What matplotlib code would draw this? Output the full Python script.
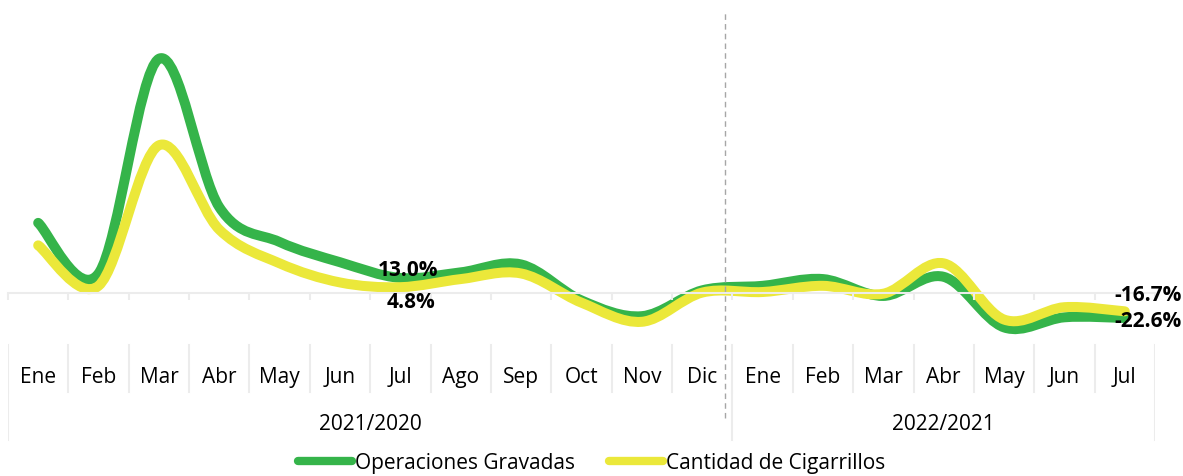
import matplotlib
matplotlib.use("Agg")
import matplotlib.pyplot as plt
from matplotlib.path import Path
from matplotlib.patches import PathPatch
from matplotlib.lines import Line2D

# datos (variación interanual, %)
meses = ["Ene", "Feb", "Mar", "Abr", "May", "Jun", "Jul", "Ago", "Sep", "Oct", "Nov", "Dic",
         "Ene", "Feb", "Mar", "Abr", "May", "Jun", "Jul"]
grupos = ["2021/2020", "2022/2021"]
meses_por_grupo = [12, 7]
operaciones = [62, 17, 208, 76, 45, 27, 13.0, 18, 25, -7, -21, 2,
               6, 12, -3, 14, -31, -22, -22.6]
cigarrillos = [42, 6, 131, 56, 26, 9, 4.8, 12, 17, -9, -26, 0,
               0.5, 6, -1, 26, -24, -13, -16.7]
etiquetas = {6: ("13.0%", "4.8%"), 18: ("-16.7%", "-22.6%")}

VERDE = "#35b44a"
AMARILLO = "#ebe83a"
GRIS = "#ececec"

plt.rcParams["font.family"] = ["Open Sans", "DejaVu Sans"]


def curva_suave(ys, t=1 / 6):
    # bezier tipo Excel (Catmull-Rom) a partir de los puntos
    n = len(ys)
    pts = list(zip(range(n), ys))
    verts = [pts[0]]
    codes = [Path.MOVETO]
    for i in range(n - 1):
        p0 = pts[max(i - 1, 0)]
        p1 = pts[i]
        p2 = pts[i + 1]
        p3 = pts[min(i + 2, n - 1)]
        c1 = (p1[0] + (p2[0] - p0[0]) * t, p1[1] + (p2[1] - p0[1]) * t)
        c2 = (p2[0] - (p3[0] - p1[0]) * t, p2[1] - (p3[1] - p1[1]) * t)
        verts += [c1, c2, p2]
        codes += [Path.CURVE4] * 3
    return Path(verts, codes)


W, H = 1183, 476
fig = plt.figure(figsize=(W / 100, H / 100), dpi=100)

# área del gráfico: x 8..1155 px, y 10..340 px
ax = fig.add_axes([8 / W, (H - 340) / H, 1147 / W, 330 / H])
n = len(meses)
ax.set_xlim(-0.5, n - 0.5)
ax.set_ylim(-42.2, 251.4)
for s in ["top", "right", "left"]:
    ax.spines[s].set_visible(False)
ax.spines["bottom"].set_position(("data", 0))
ax.spines["bottom"].set_color(GRIS)
ax.spines["bottom"].set_linewidth(1.5)
ax.set_yticks([])
ax.set_xticks([i - 0.5 for i in range(n + 1)])
ax.tick_params(axis="x", length=5, width=1.5, color=GRIS, labelbottom=False)

for ys, color in [(operaciones, VERDE), (cigarrillos, AMARILLO)]:
    ax.add_patch(PathPatch(curva_suave(ys), facecolor="none", edgecolor=color,
                           lw=7.2, capstyle="round", joinstyle="round"))

for i, (sup, inf) in etiquetas.items():
    if i == n - 1:
        ax.text(i + 0.38, cigarrillos[i] + 13.7, sup, ha="center", va="center",
                fontsize=15, fontweight="bold")
        ax.text(i + 0.38, operaciones[i] - 2.7, inf, ha="center", va="center",
                fontsize=15, fontweight="bold")
    else:
        ax.text(i + 0.12, operaciones[i] + 7, sup, ha="center", va="center",
                fontsize=15, fontweight="bold")
        ax.text(i + 0.17, cigarrillos[i] - 14, inf, ha="center", va="center",
                fontsize=15, fontweight="bold")

# línea divisoria entre periodos
ax.axvline(meses_por_grupo[0] - 0.62, ymin=-0.236, ymax=0.994, color="#a6a6a6",
           lw=1, ls=(0, (4, 3)), clip_on=False)

# tabla de categorías debajo
lab = fig.add_axes([8 / W, (H - 445) / H, 1147 / W, 105 / H])
lab.set_xlim(-0.5, n - 0.5)
lab.set_ylim(0, 1)
lab.axis("off")
for k in range(n + 1):
    lab.axvline(k - 0.5, ymin=0.505, ymax=0.952, color=GRIS, lw=1.5)
for i, m in enumerate(meses):
    lab.text(i, 0.64, m, ha="center", va="center", fontsize=15)
inicio = 0
for g, cnt in zip(grupos, meses_por_grupo):
    lab.axvline(inicio - 0.5, ymin=0.048, ymax=0.505, color=GRIS, lw=1.5)
    lab.text(inicio + (cnt - 1) / 2, 0.2, g, ha="center", va="center", fontsize=15)
    inicio += cnt
lab.axvline(n - 0.5, ymin=0.048, ymax=0.505, color=GRIS, lw=1.5)

handles = [Line2D([], [], color=VERDE, lw=6, solid_capstyle="round"),
           Line2D([], [], color=AMARILLO, lw=6, solid_capstyle="round")]
fig.legend(handles, ["Operaciones Gravadas", "Cantidad de Cigarrillos"],
           loc="center", bbox_to_anchor=(0.5, 0.027), ncol=2, frameon=False,
           fontsize=15, handlelength=2.6, handletextpad=0.15, columnspacing=1.6)

fig.savefig("out.png", dpi=100)
